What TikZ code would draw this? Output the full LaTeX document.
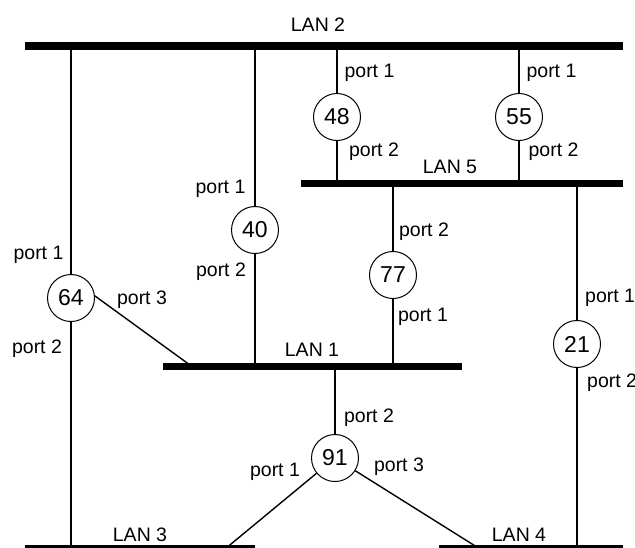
\documentclass[tikz,border=0pt]{standalone}
\usepackage{fontspec}
\setmainfont{Liberation Sans}
\begin{document}
\begin{tikzpicture}[x=1pt,y=-1pt,
  lanbar/.style={rectangle,fill=black,draw=none,inner sep=0pt,minimum height=7.5pt},
  bridge/.style={circle,draw,line width=1pt,minimum size=47pt,inner sep=0pt,fill=white,
    font=\fontsize{23}{26}\selectfont},
  lbl/.style={inner sep=0pt,font=\fontsize{19.5}{23}\selectfont},
  link/.style={line width=1.4pt}]
\useasboundingbox (0,0) rectangle (635,547);
\clip (0,0) rectangle (635,547);
% LAN bars
\node[lanbar,minimum width=598pt] (lan2) at (324,46) {};
\node[lanbar,minimum width=322pt] (lan5) at (462,183.5) {};
\node[lanbar,minimum width=299pt] (lan1) at (312.5,366.5) {};
\node[lanbar,minimum width=230pt] (lan3) at (140,549) {};
\node[lanbar,minimum width=184pt] (lan4) at (531,549) {};
% LAN labels
\node[lbl] (l2lab) at (318,25) {LAN 2};
\node[lbl] (l5lab) at (450,167) {LAN 5};
\node[lbl] (l1lab) at (312,350) {LAN 1};
\node[lbl] (l3lab) at (140,535) {LAN 3};
\node[lbl] (l4lab) at (519,535) {LAN 4};
% bridges
\node[bridge] (n48) at (337,117) {48};
\node[bridge] (n55) at (519,117) {55};
\node[bridge] (n40) at (255,230) {40};
\node[bridge] (n64) at (71,298) {64};
\node[bridge] (n77) at (393,275) {77};
\node[bridge] (n21) at (577,344) {21};
\node[bridge] (n91) at (335,458) {91};
% free ends
\coordinate (c64) at (192,366.5);
\coordinate (c913) at (225,549);
\coordinate (c914) at (480,549);
% connectors
\draw[link] (n48) -- (n48 |- lan2.center);
\draw[link] (n48) -- (n48 |- lan5.center);
\draw[link] (n55) -- (n55 |- lan2.center);
\draw[link] (n55) -- (n55 |- lan5.center);
\draw[link] (n40) -- (n40 |- lan2.center);
\draw[link] (n40) -- (n40 |- lan1.center);
\draw[link] (n64) -- (n64 |- lan2.center);
\draw[link] (n64) -- (n64 |- lan3.center);
\draw[link] (n64.5) -- (c64);
\draw[link] (n77) -- (n77 |- lan5.center);
\draw[link] (n77) -- (n77 |- lan1.center);
\draw[link] (n21) -- (n21 |- lan5.center);
\draw[link] (n21) -- (n21 |- lan4.center);
\draw[link] (n91) -- (n91 |- lan1.center);
\draw[link] (n91) -- (c913);
\draw[link] (n91) -- (c914);
% port labels
\node[lbl] (p48a) at (369.5,73) {port 1};
\node[lbl] (p48b) at (374,152) {port 2};
\node[lbl] (p55a) at (551.5,73) {port 1};
\node[lbl] (p55b) at (553.5,152) {port 2};
\node[lbl] (p40a) at (220.5,189) {port 1};
\node[lbl] (p40b) at (221,272) {port 2};
\node[lbl] (p64a) at (38.5,255) {port 1};
\node[lbl] (p64c) at (142,300) {port 3};
\node[lbl] (p64b) at (37,349) {port 2};
\node[lbl] (p77b) at (424,232) {port 2};
\node[lbl] (p77a) at (423,317) {port 1};
\node[lbl,anchor=west] (p21a) at (585,298) {port 1};
\node[lbl,anchor=west] (p21b) at (587,383) {port 2};
\node[lbl] (p91b) at (369,418) {port 2};
\node[lbl] (p91a) at (275,472) {port 1};
\node[lbl] (p91c) at (399,467) {port 3};
\end{tikzpicture}
\end{document}
